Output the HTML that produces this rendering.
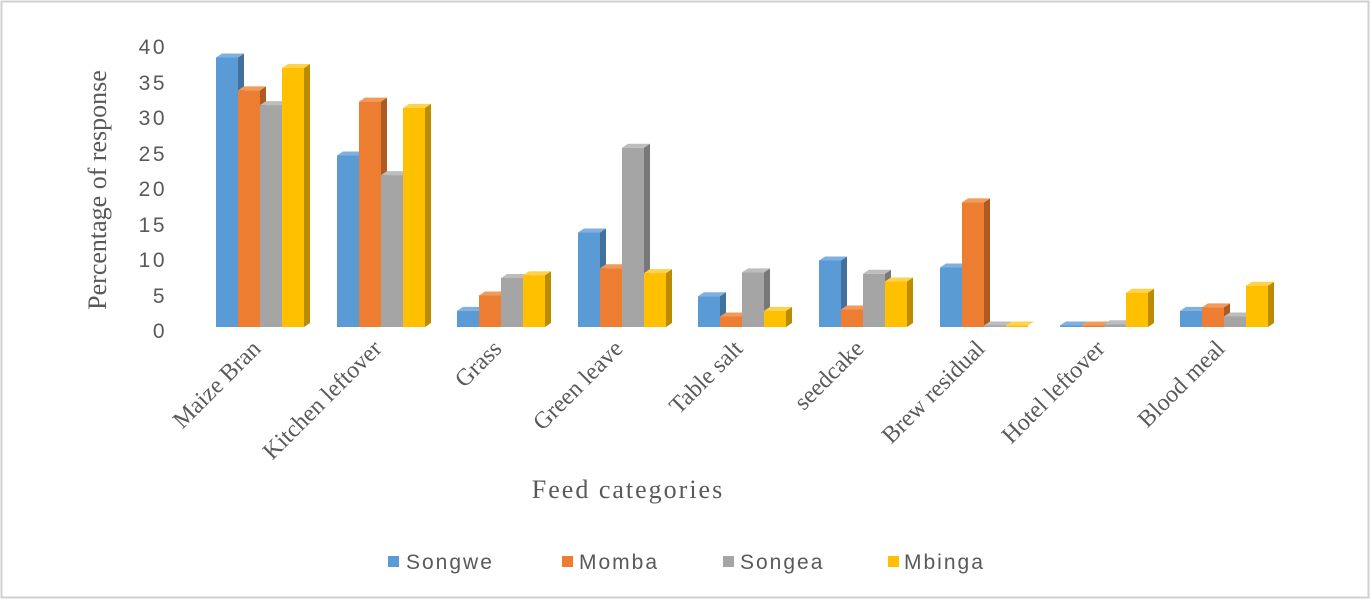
<!DOCTYPE html>
<html><head><style>body{margin:0;background:#fff}</style></head><body>
<svg width="1371" height="600" xmlns="http://www.w3.org/2000/svg">
<rect x="1.5" y="1.5" width="1367" height="596" fill="#fff" stroke="#d0d0d0" stroke-width="2"/>
<g font-family="Liberation Sans, sans-serif" font-size="21" fill="#595959" text-anchor="end" letter-spacing="2.5">
<text x="167" y="54">40</text><text x="167" y="90">35</text><text x="167" y="125">30</text><text x="167" y="161">25</text><text x="167" y="196">20</text><text x="167" y="232">15</text><text x="167" y="267">10</text><text x="167" y="303">5</text><text x="167" y="338">0</text>
</g>
<text transform="translate(106,190) rotate(-90)" font-family="Liberation Serif, serif" font-size="26" fill="#595959" text-anchor="middle">Percentage of response</text>
<text x="628" y="498" font-family="Liberation Serif, serif" font-size="26" fill="#595959" text-anchor="middle" letter-spacing="2">Feed categories</text>

<defs>
<style>
.b0{fill:#5b9bd5}.s0{fill:#41719c}.t0{fill:#7fb0de}
.b1{fill:#ed7d31}.s1{fill:#ae5a21}.t1{fill:#f29a5c}
.b2{fill:#a5a5a5}.s2{fill:#787878}.t2{fill:#bdbdbd}
.b3{fill:#ffc000}.s3{fill:#bc8c00}.t3{fill:#ffd24d}
</style>
</defs>

<g transform="translate(216,327)">
<polygon class="s0" points="22,-269.5 28,-273.5 28,-4 22,0"/><polygon class="t0" points="0,-269.5 6,-273.5 28,-273.5 22,-269.5"/><rect class="b0" x="0" y="-269.5" width="22" height="269.5"/>
<polygon class="s1" points="44,-236.6 50,-240.6 50,-4 44,0"/><polygon class="t1" points="22,-236.6 28,-240.6 50,-240.6 44,-236.6"/><rect class="b1" x="22" y="-236.6" width="22" height="236.6"/>
<polygon class="s2" points="66,-221.9 72,-225.9 72,-4 66,0"/><polygon class="t2" points="44,-221.9 50,-225.9 72,-225.9 66,-221.9"/><rect class="b2" x="44" y="-221.9" width="22" height="221.9"/>
<polygon class="s3" points="88,-259 94,-263 94,-4 88,0"/><polygon class="t3" points="66,-259 72,-263 94,-263 88,-259"/><rect class="b3" x="66" y="-259" width="22" height="259"/>
</g>
<g transform="translate(337,327)">
<polygon class="s0" points="22,-171.5 28,-175.5 28,-4 22,0"/><polygon class="t0" points="0,-171.5 6,-175.5 28,-175.5 22,-171.5"/><rect class="b0" x="0" y="-171.5" width="22" height="171.5"/>
<polygon class="s1" points="44,-225.4 50,-229.4 50,-4 44,0"/><polygon class="t1" points="22,-225.4 28,-229.4 50,-229.4 44,-225.4"/><rect class="b1" x="22" y="-225.4" width="22" height="225.4"/>
<polygon class="s2" points="66,-151.9 72,-155.9 72,-4 66,0"/><polygon class="t2" points="44,-151.9 50,-155.9 72,-155.9 66,-151.9"/><rect class="b2" x="44" y="-151.9" width="22" height="151.9"/>
<polygon class="s3" points="88,-219.1 94,-223.1 94,-4 88,0"/><polygon class="t3" points="66,-219.1 72,-223.1 94,-223.1 88,-219.1"/><rect class="b3" x="66" y="-219.1" width="22" height="219.1"/>
</g>
<g transform="translate(457,327)">
<polygon class="s0" points="22,-16.1 28,-20.1 28,-4 22,0"/><polygon class="t0" points="0,-16.1 6,-20.1 28,-20.1 22,-16.1"/><rect class="b0" x="0" y="-16.1" width="22" height="16.1"/>
<polygon class="s1" points="44,-31.5 50,-35.5 50,-4 44,0"/><polygon class="t1" points="22,-31.5 28,-35.5 50,-35.5 44,-31.5"/><rect class="b1" x="22" y="-31.5" width="22" height="31.5"/>
<polygon class="s2" points="66,-49 72,-53 72,-4 66,0"/><polygon class="t2" points="44,-49 50,-53 72,-53 66,-49"/><rect class="b2" x="44" y="-49" width="22" height="49"/>
<polygon class="s3" points="88,-51.8 94,-55.8 94,-4 88,0"/><polygon class="t3" points="66,-51.8 72,-55.8 94,-55.8 88,-51.8"/><rect class="b3" x="66" y="-51.8" width="22" height="51.8"/>
</g>
<g transform="translate(578,327)">
<polygon class="s0" points="22,-94.5 28,-98.5 28,-4 22,0"/><polygon class="t0" points="0,-94.5 6,-98.5 28,-98.5 22,-94.5"/><rect class="b0" x="0" y="-94.5" width="22" height="94.5"/>
<polygon class="s1" points="44,-58.8 50,-62.8 50,-4 44,0"/><polygon class="t1" points="22,-58.8 28,-62.8 50,-62.8 44,-58.8"/><rect class="b1" x="22" y="-58.8" width="22" height="58.8"/>
<polygon class="s2" points="66,-179.2 72,-183.2 72,-4 66,0"/><polygon class="t2" points="44,-179.2 50,-183.2 72,-183.2 66,-179.2"/><rect class="b2" x="44" y="-179.2" width="22" height="179.2"/>
<polygon class="s3" points="88,-53.9 94,-57.9 94,-4 88,0"/><polygon class="t3" points="66,-53.9 72,-57.9 94,-57.9 88,-53.9"/><rect class="b3" x="66" y="-53.9" width="22" height="53.9"/>
</g>
<g transform="translate(698,327)">
<polygon class="s0" points="22,-30.8 28,-34.8 28,-4 22,0"/><polygon class="t0" points="0,-30.8 6,-34.8 28,-34.8 22,-30.8"/><rect class="b0" x="0" y="-30.8" width="22" height="30.8"/>
<polygon class="s1" points="44,-10.5 50,-14.5 50,-4 44,0"/><polygon class="t1" points="22,-10.5 28,-14.5 50,-14.5 44,-10.5"/><rect class="b1" x="22" y="-10.5" width="22" height="10.5"/>
<polygon class="s2" points="66,-54.6 72,-58.6 72,-4 66,0"/><polygon class="t2" points="44,-54.6 50,-58.6 72,-58.6 66,-54.6"/><rect class="b2" x="44" y="-54.6" width="22" height="54.6"/>
<polygon class="s3" points="88,-16.1 94,-20.1 94,-4 88,0"/><polygon class="t3" points="66,-16.1 72,-20.1 94,-20.1 88,-16.1"/><rect class="b3" x="66" y="-16.1" width="22" height="16.1"/>
</g>
<g transform="translate(819,327)">
<polygon class="s0" points="22,-66.5 28,-70.5 28,-4 22,0"/><polygon class="t0" points="0,-66.5 6,-70.5 28,-70.5 22,-66.5"/><rect class="b0" x="0" y="-66.5" width="22" height="66.5"/>
<polygon class="s1" points="44,-17.5 50,-21.5 50,-4 44,0"/><polygon class="t1" points="22,-17.5 28,-21.5 50,-21.5 44,-17.5"/><rect class="b1" x="22" y="-17.5" width="22" height="17.5"/>
<polygon class="s2" points="66,-53.2 72,-57.2 72,-4 66,0"/><polygon class="t2" points="44,-53.2 50,-57.2 72,-57.2 66,-53.2"/><rect class="b2" x="44" y="-53.2" width="22" height="53.2"/>
<polygon class="s3" points="88,-45.5 94,-49.5 94,-4 88,0"/><polygon class="t3" points="66,-45.5 72,-49.5 94,-49.5 88,-45.5"/><rect class="b3" x="66" y="-45.5" width="22" height="45.5"/>
</g>
<g transform="translate(940,327)">
<polygon class="s0" points="22,-59.5 28,-63.5 28,-4 22,0"/><polygon class="t0" points="0,-59.5 6,-63.5 28,-63.5 22,-59.5"/><rect class="b0" x="0" y="-59.5" width="22" height="59.5"/>
<polygon class="s1" points="44,-124.6 50,-128.6 50,-4 44,0"/><polygon class="t1" points="22,-124.6 28,-128.6 50,-128.6 44,-124.6"/><rect class="b1" x="22" y="-124.6" width="22" height="124.6"/>
<polygon class="t2" points="44,-1.5 50,-5.5 72,-5.5 66,-1.5"/><rect class="b2" x="44" y="-1.5" width="22" height="1.5"/>
<polygon class="t3" points="66,-1.5 72,-5.5 94,-5.5 88,-1.5"/><rect class="b3" x="66" y="-1.5" width="22" height="1.5"/>
</g>
<g transform="translate(1060,327)">
<polygon class="t0" points="0,-1.5 6,-5.5 28,-5.5 22,-1.5"/><rect class="b0" x="0" y="-1.5" width="22" height="1.5"/>
<polygon class="t1" points="22,-1.5 28,-5.5 50,-5.5 44,-1.5"/><rect class="b1" x="22" y="-1.5" width="22" height="1.5"/>
<polygon class="s2" points="66,-2.8 72,-6.8 72,-4 66,0"/><polygon class="t2" points="44,-2.8 50,-6.8 72,-6.8 66,-2.8"/><rect class="b2" x="44" y="-2.8" width="22" height="2.8"/>
<polygon class="s3" points="88,-34.3 94,-38.3 94,-4 88,0"/><polygon class="t3" points="66,-34.3 72,-38.3 94,-38.3 88,-34.3"/><rect class="b3" x="66" y="-34.3" width="22" height="34.3"/>
</g>
<g transform="translate(1180,327)">
<polygon class="s0" points="22,-16.1 28,-20.1 28,-4 22,0"/><polygon class="t0" points="0,-16.1 6,-20.1 28,-20.1 22,-16.1"/><rect class="b0" x="0" y="-16.1" width="22" height="16.1"/>
<polygon class="s1" points="44,-19.6 50,-23.6 50,-4 44,0"/><polygon class="t1" points="22,-19.6 28,-23.6 50,-23.6 44,-19.6"/><rect class="b1" x="22" y="-19.6" width="22" height="19.6"/>
<polygon class="s2" points="66,-10.5 72,-14.5 72,-4 66,0"/><polygon class="t2" points="44,-10.5 50,-14.5 72,-14.5 66,-10.5"/><rect class="b2" x="44" y="-10.5" width="22" height="10.5"/>
<polygon class="s3" points="88,-41.3 94,-45.3 94,-4 88,0"/><polygon class="t3" points="66,-41.3 72,-45.3 94,-45.3 88,-41.3"/><rect class="b3" x="66" y="-41.3" width="22" height="41.3"/>
</g>

<g font-family="Liberation Serif, serif" font-size="24" fill="#595959" text-anchor="end">
<text transform="translate(262,350) rotate(-45)">Maize Bran</text>
<text transform="translate(383,350) rotate(-45)">Kitchen leftover</text>
<text transform="translate(503,350) rotate(-45)">Grass</text>
<text transform="translate(624,350) rotate(-45)">Green leave</text>
<text transform="translate(744,350) rotate(-45)">Table salt</text>
<text transform="translate(865,350) rotate(-45)">seedcake</text>
<text transform="translate(986,350) rotate(-45)">Brew residual</text>
<text transform="translate(1106,350) rotate(-45)">Hotel leftover</text>
<text transform="translate(1226,350) rotate(-45)">Blood meal</text>
</g>

<g font-family="Liberation Sans, sans-serif" font-size="21" fill="#595959" letter-spacing="2">
<rect x="388" y="556" width="11" height="11" fill="#5b9bd5"/><text x="406" y="569">Songwe</text>
<rect x="562" y="556" width="11" height="11" fill="#ed7d31"/><text x="579" y="569">Momba</text>
<rect x="723" y="556" width="11" height="11" fill="#a5a5a5"/><text x="740" y="569">Songea</text>
<rect x="888" y="556" width="11" height="11" fill="#ffc000"/><text x="904" y="569">Mbinga</text>
</g>
</svg>
</body></html>
